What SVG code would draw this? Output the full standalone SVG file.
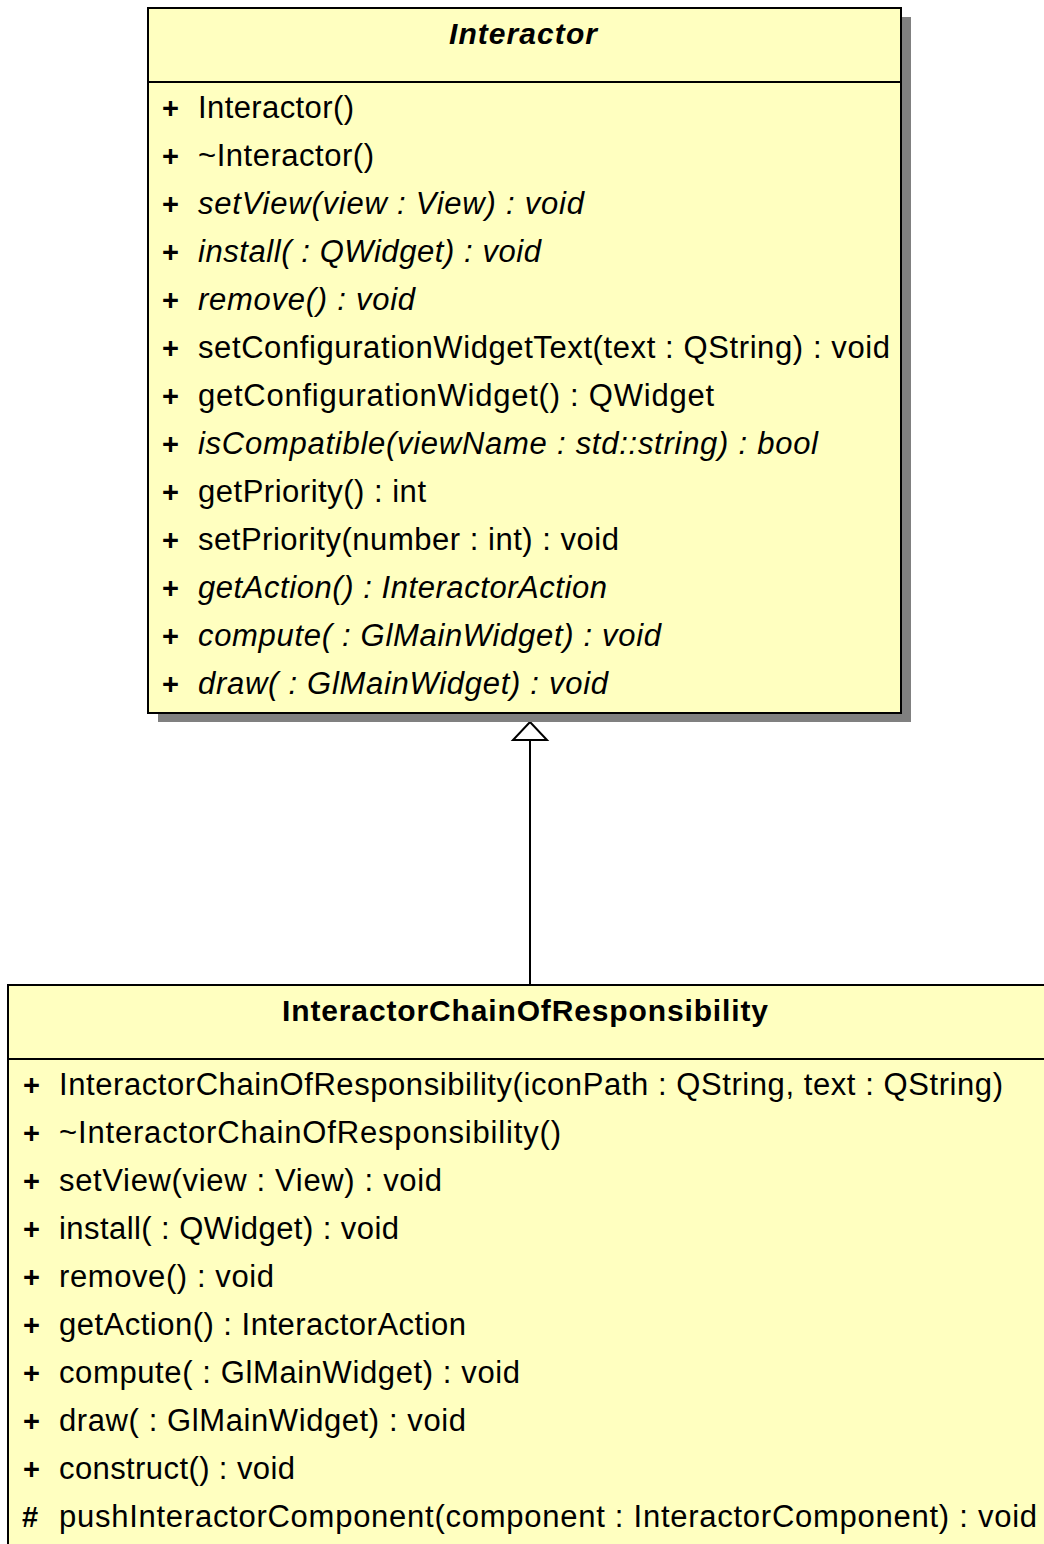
<svg xmlns="http://www.w3.org/2000/svg" width="1044" height="1544" viewBox="0 0 1044 1544">
<defs>
<style>
.box{fill:#ffffc0;stroke:#000;stroke-width:2}
.shadow{fill:#808080}
.sep{stroke:#000;stroke-width:2}
text{font-family:"Liberation Sans",Arial,sans-serif;font-size:31px;fill:#000}
.title{font-weight:bold;text-anchor:middle;font-size:30px}
.it{font-style:italic}
.vis{font-weight:bold;font-size:29px}
.edge{stroke:#000;stroke-width:2;fill:none}
.head{fill:#fff;stroke:#000;stroke-width:2}
</style>
</defs>
<rect width="1044" height="1544" fill="#fff"/>
<g id="connectors">
<line class="edge" x1="530" y1="740" x2="530" y2="985"/>
<path class="head" d="M530,722 L547,740 L513,740 Z"/>
</g>
<g id="Interactor">
<rect class="shadow" x="158" y="17" width="753" height="705"/>
<rect class="box" x="148" y="8" width="753" height="705"/>
<line class="sep" x1="148" y1="82" x2="901" y2="82"/>
<text class="title it" x="523" y="44" textLength="148" lengthAdjust="spacing">Interactor</text>
<g>
<text class="vis" x="162" y="118">+</text><text x="198" y="118" textLength="156" lengthAdjust="spacing">Interactor()</text>
<text class="vis" x="162" y="166">+</text><text x="198" y="166" textLength="176" lengthAdjust="spacing">~Interactor()</text>
<text class="vis" x="162" y="214">+</text><text class="it" x="198" y="214" textLength="386" lengthAdjust="spacing">setView(view : View) : void</text>
<text class="vis" x="162" y="262">+</text><text class="it" x="198" y="262" textLength="343" lengthAdjust="spacing">install( : QWidget) : void</text>
<text class="vis" x="162" y="310">+</text><text class="it" x="198" y="310" textLength="217" lengthAdjust="spacing">remove() : void</text>
<text class="vis" x="162" y="358">+</text><text x="198" y="358" textLength="692" lengthAdjust="spacing">setConfigurationWidgetText(text : QString) : void</text>
<text class="vis" x="162" y="406">+</text><text x="198" y="406" textLength="516" lengthAdjust="spacing">getConfigurationWidget() : QWidget</text>
<text class="vis" x="162" y="454">+</text><text class="it" x="198" y="454" textLength="620" lengthAdjust="spacing">isCompatible(viewName : std::string) : bool</text>
<text class="vis" x="162" y="502">+</text><text x="198" y="502" textLength="228" lengthAdjust="spacing">getPriority() : int</text>
<text class="vis" x="162" y="550">+</text><text x="198" y="550" textLength="421" lengthAdjust="spacing">setPriority(number : int) : void</text>
<text class="vis" x="162" y="598">+</text><text class="it" x="198" y="598" textLength="409" lengthAdjust="spacing">getAction() : InteractorAction</text>
<text class="vis" x="162" y="646">+</text><text class="it" x="198" y="646" textLength="463" lengthAdjust="spacing">compute( : GlMainWidget) : void</text>
<text class="vis" x="162" y="694">+</text><text class="it" x="198" y="694" textLength="410" lengthAdjust="spacing">draw( : GlMainWidget) : void</text>
</g>
</g>
<g id="InteractorChainOfResponsibility">
<rect class="box" x="8" y="985" width="1050" height="570"/>
<line class="sep" x1="8" y1="1059" x2="1044" y2="1059"/>
<text class="title" x="525" y="1021" textLength="486" lengthAdjust="spacing">InteractorChainOfResponsibility</text>
<text class="vis" x="23" y="1095">+</text><text x="59" y="1095" textLength="944" lengthAdjust="spacing">InteractorChainOfResponsibility(iconPath : QString, text : QString)</text>
<text class="vis" x="23" y="1143">+</text><text x="59" y="1143" textLength="502" lengthAdjust="spacing">~InteractorChainOfResponsibility()</text>
<text class="vis" x="23" y="1191">+</text><text x="59" y="1191" textLength="383" lengthAdjust="spacing">setView(view : View) : void</text>
<text class="vis" x="23" y="1239">+</text><text x="59" y="1239" textLength="340" lengthAdjust="spacing">install( : QWidget) : void</text>
<text class="vis" x="23" y="1287">+</text><text x="59" y="1287" textLength="215" lengthAdjust="spacing">remove() : void</text>
<text class="vis" x="23" y="1335">+</text><text x="59" y="1335" textLength="407" lengthAdjust="spacing">getAction() : InteractorAction</text>
<text class="vis" x="23" y="1383">+</text><text x="59" y="1383" textLength="461" lengthAdjust="spacing">compute( : GlMainWidget) : void</text>
<text class="vis" x="23" y="1431">+</text><text x="59" y="1431" textLength="407" lengthAdjust="spacing">draw( : GlMainWidget) : void</text>
<text class="vis" x="23" y="1479">+</text><text x="59" y="1479" textLength="236" lengthAdjust="spacing">construct() : void</text>
<text class="vis" x="22" y="1527">#</text><text x="59" y="1527" textLength="978" lengthAdjust="spacing">pushInteractorComponent(component : InteractorComponent) : void</text>
</g>
</svg>
